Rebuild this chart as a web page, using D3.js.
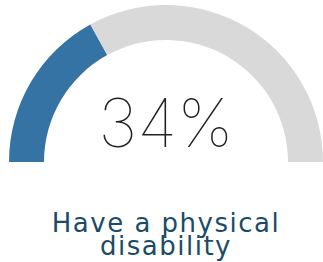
<!DOCTYPE html>
<html>
<head>
<meta charset="utf-8">
<script src="https://cdn.jsdelivr.net/npm/d3@7"></script>
<style>
	body { margin: 0; background: #fff; }
</style>
</head>
<body>
<div id="gauge"></div>
<script>
// GAUGE CHART
var categories = [ 'Have a physical disability', 'Other' ];
var values = [ 34, 66 ];
var labelLines = [ 'Have a physical', 'disability' ];
var colors = [ '#3673a5', '#d9d9d9' ];

var width = 323;
var height = 262;

var cx = 166;
var cy = 162;
var outerR = 157;
var innerR = 122;

var svg = d3.select( '#gauge' )
	.append( 'svg' )
	.attr( 'width', width )
	.attr( 'height', height );

// angle scale: 0..100 percent across the half circle
var angle = d3.scaleLinear()
	.domain( [ 0, d3.sum( values ) ] )
	.range( [ -Math.PI / 2, Math.PI / 2 ] );

var arc = d3.arc()
	.innerRadius( innerR )
	.outerRadius( outerR );

var g = svg.append( 'g' )
	.attr( 'transform', 'translate(' + cx + ',' + cy + ')' );

var start = 0;
var slices = values.map( function( v, i ) {
	var s = { startAngle: angle( start ), endAngle: angle( start + v ), i: i };
	start += v;
	return s;
} );

g.selectAll( '.slice' )
	.data( slices )
	.enter()
	.append( 'path' )
	.attr( 'class', 'slice' )
	.attr( 'd', arc )
	.style( 'fill', function( d ) { return colors[ d.i ]; } );

// big percentage
g.append( 'text' )
	.attr( 'x', 0 )
	.attr( 'y', -15 )
	.attr( 'text-anchor', 'middle' )
	.text( values[ 0 ] + '%' )
	.attr( 'font-family', 'Inter, Lato, sans-serif' )
	.attr( 'font-weight', 100 )
	.attr( 'font-size', '67px' )
	.attr( 'fill', '#222' );

// label under the gauge
svg.selectAll( '.label' )
	.data( labelLines )
	.enter()
	.append( 'text' )
	.attr( 'class', 'label' )
	.attr( 'x', 166 )
	.attr( 'y', function( d, i ) { return 232 + i * 23; } )
	.attr( 'text-anchor', 'middle' )
	.text( function( d ) { return d; } )
	.attr( 'font-family', '"DejaVu Sans", sans-serif' )
	.attr( 'font-size', '26px' )
	.attr( 'letter-spacing', '1.5px' )
	.attr( 'fill', '#1b4c66' );
</script>
</body>
</html>
